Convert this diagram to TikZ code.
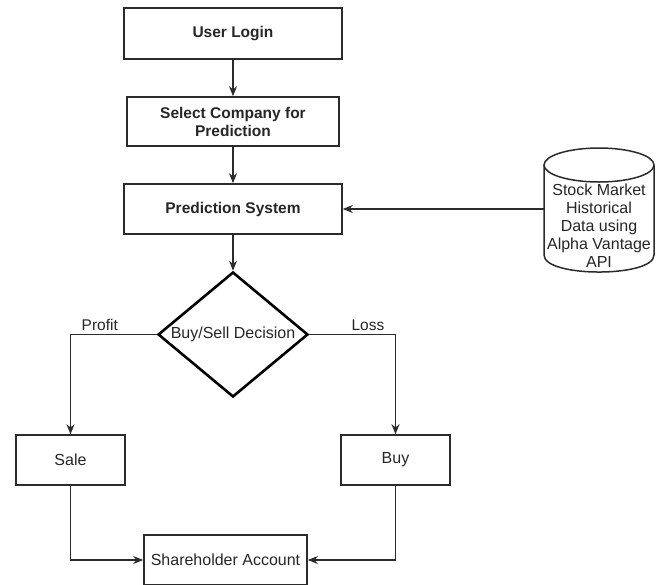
\documentclass[tikz,border=0pt]{standalone}
\usepackage{fontspec}
\setmainfont{Liberation Sans}
\usetikzlibrary{arrows.meta, shapes.geometric, calc}
\definecolor{inkGray}{HTML}{2B2B2B}
\definecolor{textGray}{HTML}{262626}

\begin{document}
\begin{tikzpicture}[x=1pt, y=-1pt,
    every node/.style={text=textGray},
    procbox/.style={draw=inkGray, line width=1.6pt, rectangle, align=center,
      font=\fontsize{15.5}{18}\selectfont\bfseries},
    plainbox/.style={draw=inkGray, line width=1.6pt, rectangle, align=center,
      font=\fontsize{16}{18}\selectfont},
    decision/.style={draw=black, line width=2.6pt, diamond, aspect=1.2,
      inner sep=1pt, minimum width=150pt, minimum height=125pt,
      font=\fontsize{16}{18}\selectfont},
    flow/.style={draw=inkGray, line width=1.5pt, -{Stealth[length=10pt,width=8pt]}},
    branch/.style={font=\fontsize{15.5}{18}\selectfont}]
  \useasboundingbox (0,0) rectangle (660,584);
  % Main column
  \node[procbox, minimum width=218pt, minimum height=51pt] (login) at (233,33.5) {User Login};
  \node[procbox, minimum width=212pt, minimum height=49pt] (select) at (233,121.5)
        {Select Company for\\Prediction};
  \node[procbox, minimum width=218pt, minimum height=50pt] (pred) at (233,209) {Prediction System};
  \node[decision] (dec) at (233,334.5) {Buy/Sell Decision};
  % Outcomes
  \node[plainbox, minimum width=109pt, minimum height=50pt] (sale) at (70.5,460) {Sale};
  \node[plainbox, minimum width=109pt, minimum height=50pt] (buy) at (395.5,460) {Buy};
  \node[plainbox, minimum width=163pt, minimum height=50pt] (acct) at (225.5,560) {Shareholder Account};
  % Data store (cylinder)
  \draw[draw=inkGray, line width=1.5pt, fill=white]
        (544,165) -- (544,255) .. controls (544,277.7) and (654,277.7) .. (654,255) -- (654,165);
  \draw[draw=inkGray, line width=1.5pt] (599,165) ellipse [x radius=55, y radius=17];
  \node[inner sep=0pt, minimum width=110pt, minimum height=124pt] (db) at (599,209) {};
  \node[align=center, font=\fontsize{16}{18}\selectfont] (dbtext) at (599,225.5)
        {Stock Market\\Historical\\Data using\\Alpha Vantage\\API};
  % Connectors
  \draw[flow] (login) -- (select);
  \draw[flow] (select) -- (pred);
  \draw[flow] (pred) -- (dec);
  \draw[flow] (db.west) -- (pred.east);
  \draw[flow] (dec.west) -| node[branch, above, pos=0.33] {Profit} (sale.north);
  \draw[flow] (dec.east) -| node[branch, above, pos=0.34] {Loss} (buy.north);
  \draw[flow] (sale.south) |- (acct.west);
  \draw[flow] (buy.south) |- (acct.east);
\end{tikzpicture}
\end{document}
